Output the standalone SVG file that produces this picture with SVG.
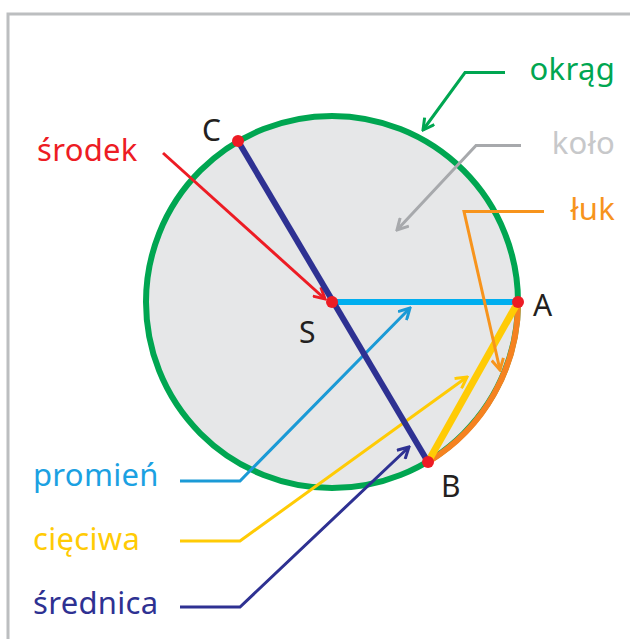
<svg xmlns="http://www.w3.org/2000/svg" width="630" height="639" viewBox="0 0 630 639">
<defs>
<style>
.lbl{font-family:"Noto Sans","DejaVu Sans",sans-serif;font-size:31px;letter-spacing:0.3px;}
.pt{font-family:"Noto Sans","DejaVu Sans",sans-serif;font-size:30px;fill:#231f20;}
.lead{fill:none;stroke-width:3;stroke-linejoin:miter;}
.dot{fill:#ed1c24;}
</style>
<marker id="mGreen" viewBox="0 0 14 14" refX="12" refY="7" markerWidth="14" markerHeight="14" markerUnits="userSpaceOnUse" orient="auto"><path d="M1,1 L12,7 L1,13" fill="none" stroke="#00a651" stroke-width="3"/></marker>
<marker id="mGray" viewBox="0 0 14 14" refX="12" refY="7" markerWidth="14" markerHeight="14" markerUnits="userSpaceOnUse" orient="auto"><path d="M1,1 L12,7 L1,13" fill="none" stroke="#a7a9ac" stroke-width="3"/></marker>
<marker id="mOrange" viewBox="0 0 14 14" refX="12" refY="7" markerWidth="14" markerHeight="14" markerUnits="userSpaceOnUse" orient="auto"><path d="M1,1 L12,7 L1,13" fill="none" stroke="#f7941d" stroke-width="3"/></marker>
<marker id="mRed" viewBox="0 0 14 14" refX="12" refY="7" markerWidth="14" markerHeight="14" markerUnits="userSpaceOnUse" orient="auto"><path d="M1,1 L12,7 L1,13" fill="none" stroke="#ed1c24" stroke-width="3"/></marker>
<marker id="mBlue" viewBox="0 0 14 14" refX="12" refY="7" markerWidth="14" markerHeight="14" markerUnits="userSpaceOnUse" orient="auto"><path d="M1,1 L12,7 L1,13" fill="none" stroke="#1b9ad6" stroke-width="3"/></marker>
<marker id="mYellow" viewBox="0 0 14 14" refX="12" refY="7" markerWidth="14" markerHeight="14" markerUnits="userSpaceOnUse" orient="auto"><path d="M1,1 L12,7 L1,13" fill="none" stroke="#ffcb05" stroke-width="3"/></marker>
<marker id="mNavy" viewBox="0 0 14 14" refX="12" refY="7" markerWidth="14" markerHeight="14" markerUnits="userSpaceOnUse" orient="auto"><path d="M1,1 L12,7 L1,13" fill="none" stroke="#2e3192" stroke-width="3"/></marker>
</defs>
<rect width="630" height="639" fill="#ffffff"/>
<path d="M8,639 V14 H630" fill="none" stroke="#bcbec0" stroke-width="3"/>
<g id="circle">
<circle cx="332" cy="302" r="186" fill="#e6e7e8" stroke="#00a651" stroke-width="6"/>
</g>
<g id="arc">
<path d="M518,302 A186,186 0 0 1 428,462" fill="none" stroke="#f58220" stroke-width="6"/>
</g>
<g id="radius">
<line x1="332" y1="302" x2="518" y2="302" stroke="#00aeef" stroke-width="6"/>
</g>
<g id="chord">
<line x1="518" y1="302" x2="428" y2="462" stroke="#ffcb05" stroke-width="7"/>
</g>
<g id="connectors">
<path class="lead" stroke="#00a651" d="M505,72.5 H465 L423,130" marker-end="url(#mGreen)"/>
<path class="lead" stroke="#a7a9ac" d="M521,145.5 H476 L397,230" marker-end="url(#mGray)"/>
<path class="lead" stroke="#f7941d" d="M544,211.5 H464 L500,370" marker-end="url(#mOrange)"/>
<path class="lead" stroke="#ed1c24" d="M163,153 L325,299" marker-end="url(#mRed)"/>
<path class="lead" stroke="#1b9ad6" d="M180,481 H240 L410,308" marker-end="url(#mBlue)"/>
<path class="lead" stroke="#ffcb05" d="M180,541 H240 L467,377" marker-end="url(#mYellow)"/>
<path class="lead" stroke="#2e3192" d="M180,607 H240 L409,447" marker-end="url(#mNavy)"/>
</g>
<g id="diameter">
<line x1="238" y1="141" x2="428" y2="462" stroke="#2e3192" stroke-width="6"/>
</g>
<g id="points">
<circle class="dot" cx="238" cy="141" r="6"/>
<circle class="dot" cx="332" cy="302" r="6"/>
<circle class="dot" cx="518" cy="302" r="6"/>
<circle class="dot" cx="428" cy="462" r="6"/>
<text class="pt" x="202" y="141">C</text>
<text class="pt" x="299" y="343">S</text>
<text class="pt" x="533" y="316">A</text>
<text class="pt" x="441" y="497">B</text>
</g>
<g id="label-okrag"><text class="lbl" x="615" y="80" text-anchor="end" fill="#00a651">okrąg</text></g>
<g id="label-kolo"><text class="lbl" x="615" y="154" text-anchor="end" fill="#c7c8ca">koło</text></g>
<g id="label-luk"><text class="lbl" x="615" y="220" text-anchor="end" fill="#f7941d">łuk</text></g>
<g id="label-srodek"><text class="lbl" x="37" y="161" fill="#ed1c24">środek</text></g>
<g id="label-promien"><text class="lbl" x="33" y="486" fill="#1ba1e2">promień</text></g>
<g id="label-cieciwa"><text class="lbl" x="33" y="550" fill="#ffcb05">cięciwa</text></g>
<g id="label-srednica"><text class="lbl" x="33" y="614" fill="#2e3192">średnica</text></g>
</svg>
